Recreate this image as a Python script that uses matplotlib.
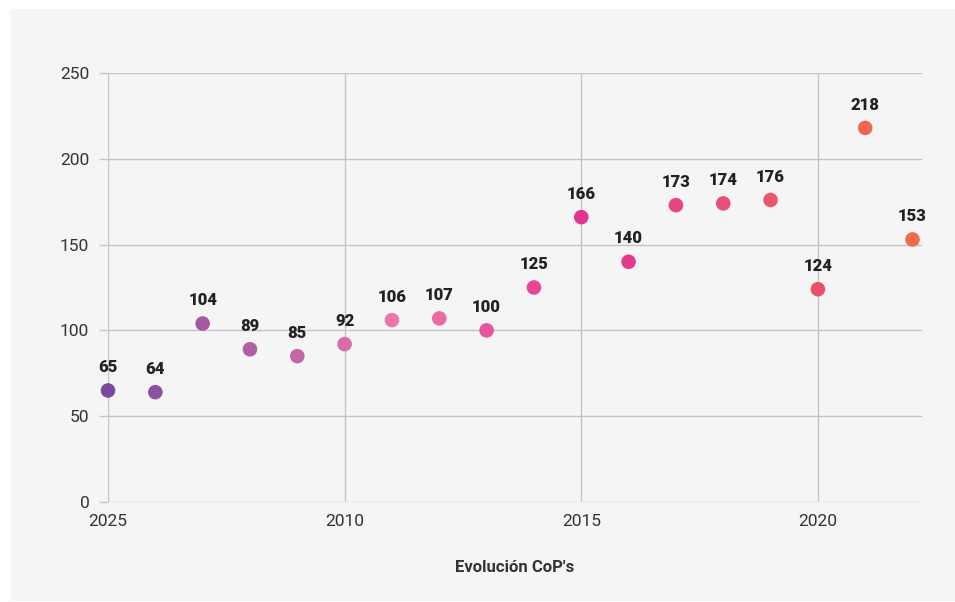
import matplotlib
matplotlib.use("Agg")
import matplotlib.pyplot as plt
from matplotlib.patches import Rectangle

years = list(range(2005, 2023))
values = [65, 64, 104, 89, 85, 92, 106, 107, 100, 125, 166, 140, 173, 174, 176, 124, 218, 153]
xtick_vals = [2005, 2010, 2015, 2020]
xtick_labels = ["2025", "2010", "2015", "2020"]
ytick_vals = [0, 50, 100, 150, 200, 250]
colors = ["#7b4a9c", "#8f50a2", "#a558a4", "#b25ea6", "#c666a8", "#d86ea9",
          "#ea76ab", "#ea6aa6", "#e8559c", "#e84595", "#e3358f", "#e43a8b",
          "#e64581", "#e84f7a", "#ea5870", "#e9506c", "#ee6656", "#ef6b4b"]

plt.rcParams['font.family'] = ['Roboto', 'DejaVu Sans']
W, H = 955, 602
fig = plt.figure(figsize=(W/100, H/100), dpi=100)
fig.patch.set_facecolor("white")
fig.patches.append(Rectangle((11/W, 1/H), (W-11)/W, (H-10)/H, transform=fig.transFigure,
                             facecolor="#f5f5f5", edgecolor="none", zorder=-10))

ax = fig.add_axes([108/W, 1-502/H, (922-108)/W, (502-73)/H])
ax.set_zorder(5)
ax.set_facecolor("none")
ax.set_xlim(2005, 2022.2)
ax.set_ylim(0, 250)
for s in ax.spines.values():
    s.set_visible(False)
grid_c = "#c4c4c4"
ax.set_yticks(ytick_vals)
ax.set_xticks(xtick_vals)
ax.set_xticklabels(xtick_labels)
ax.grid(True, color=grid_c, linewidth=1)
ax.set_axisbelow(True)
ax.tick_params(axis='y', length=6.5, color=grid_c, width=1, pad=7, labelsize=12.5, labelcolor="#333333")
ax.tick_params(axis='x', length=0, pad=9, labelsize=12.5, labelcolor="#333333")

ax.scatter(years, values, s=110, c=colors, zorder=3, linewidths=0, clip_on=False)
for x, v in zip(years, values):
    ax.annotate(str(v), (x, v), xytext=(0, 11), textcoords="offset points",
                ha="center", va="bottom", fontsize=12, fontweight="heavy", color="#222222",
                annotation_clip=False)

ax.set_xlabel("Evolución CoP's", fontsize=12, fontweight="bold", color="#333333", labelpad=22)

fig.savefig("out.png", dpi=100)
